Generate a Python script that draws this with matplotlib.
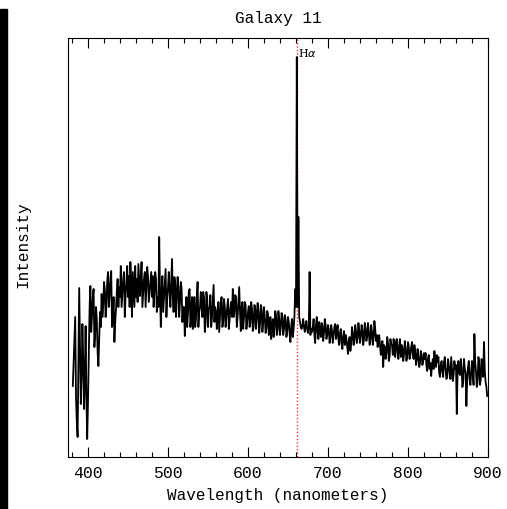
import matplotlib
matplotlib.use('Agg')
import matplotlib.pyplot as plt
import numpy as np
from matplotlib.patches import Rectangle
from matplotlib.ticker import MultipleLocator

# Spectrum of galaxy 11 (arbitrary intensity units)
# values at the even steps 381, 383, ... 899 nm
wl_start = 381.0   # nm
intensity = [
    71, 121, 60, 20, 169, 53, 133, 48, 131, 18,
    106, 171, 141, 168, 125, 138, 91, 145, 163, 151,
    168, 151, 185, 161, 186, 141, 115, 148, 178, 170,
    191, 165, 185, 161, 191, 181, 195, 140, 168, 191,
    178, 193, 161, 195, 165, 185, 171, 181, 165, 185,
    181, 165, 178, 160, 220, 130, 181, 160, 188, 158,
    185, 150, 198, 145, 175, 158, 170, 155, 168, 150,
    121, 160, 145, 168, 140, 128, 160, 138, 175, 145,
    165, 140, 160, 135, 158, 148, 162, 140, 172, 150,
    128, 155, 140, 160, 135, 150, 141, 158, 137, 155,
    168, 145, 160, 140, 170, 126, 155, 140, 152, 135,
    151, 135, 148, 130, 150, 138, 146, 133, 148, 135,
    140, 128, 143, 130, 118, 138, 128, 142, 127, 138,
    130, 140, 128, 138, 125, 135, 115, 138, 128, 168,
    400, 240, 135, 128, 138, 125, 136, 124, 185, 128,
    130, 122, 132, 125, 135, 120, 130, 124, 132, 122,
    128, 120, 126, 122, 133, 124, 118, 124, 114, 121,
    112, 118, 103, 120, 114, 124, 117, 126, 119, 127,
    120, 127, 118, 128, 121, 126, 117, 125, 119, 128,
    122, 115, 112, 108, 90, 110, 104, 114, 100, 113,
    102, 112, 115, 104, 112, 100, 109, 103, 108, 100,
    110, 103, 115, 98, 106, 97, 100, 94, 102, 96,
    98, 92, 99, 88, 81, 98, 106, 90, 95, 84,
    92, 85, 95, 88, 80, 92, 78, 88, 82, 88,
    43, 96, 82, 90, 75, 88, 51, 90, 78, 85,
    81, 123, 85, 75, 95, 78, 88, 115, 75, 61,
]
# values at the odd steps 382, 384, ... 898 nm (in between the ones above)
intensity_mid = [
    95, 140, 35, 90, 110, 80, 100, 75, 60, 55,
    150, 125, 160, 110, 150, 105, 120, 130, 140, 175,
    140, 175, 150, 178, 130, 160, 135, 165, 150, 160,
    150, 178, 140, 175, 160, 150, 170, 185, 150, 160,
    155, 178, 180, 150, 178, 150, 190, 155, 175, 160,
    150, 185, 145, 150, 165, 165, 145, 175, 140, 170,
    165, 175, 160, 180, 140, 180, 140, 175, 135, 150,
    145, 130, 165, 130, 160, 150, 130, 160, 130, 150,
    150, 165, 125, 165, 130, 150, 130, 155, 135, 145,
    145, 125, 155, 130, 158, 130, 150, 128, 150, 140,
    140, 162, 130, 155, 145, 150, 128, 155, 128, 145,
    130, 155, 126, 152, 128, 154, 124, 152, 125, 150,
    124, 146, 122, 140, 132, 120, 146, 122, 146, 122,
    144, 122, 142, 120, 140, 124, 130, 120, 140, 150,
    150, 140, 130, 132, 130, 132, 128, 130, 122, 125,
    138, 114, 140, 118, 126, 134, 116, 138, 118, 132,
    114, 132, 114, 130, 118, 132, 112, 128, 108, 126,
    122, 110, 116, 106, 130, 112, 132, 114, 134, 114,
    132, 112, 134, 116, 134, 112, 132, 112, 136, 116,
    110, 122, 102, 116, 112, 98, 120, 96, 118, 112,
    118, 100, 118, 98, 118, 112, 96, 116, 96, 115,
    98, 110, 102, 112, 92, 108, 90, 106, 92, 104,
    104, 86, 102, 94, 92, 88, 94, 102, 100, 80,
    96, 80, 100, 78, 98, 84, 100, 76, 96, 92,
    88, 84, 98, 70, 98, 84, 78, 96, 72, 96,
    72, 95, 70, 100, 72, 98, 80, 86, 70,
]

flux = np.empty(len(intensity) + len(intensity_mid))
flux[0::2] = intensity
flux[1::2] = intensity_mid
wavelength = wl_start + np.arange(len(flux))

halpha_obs = 661.0   # observed H-alpha position (nm)
xmin, xmax = 375, 900
ymin, ymax = 0, 419

fig = plt.figure(figsize=(5.07, 5.10), dpi=100)
ax = fig.add_axes([68/507, 1-458/510, 420/507, 419/510])

# dark strip at the left edge of the screenshot
fig.patches.append(Rectangle((0, 0), 6.5/507, 1-10/510, transform=fig.transFigure,
                             color='black', zorder=0))

ax.axvline(halpha_obs, color='#ff3030', linestyle=(0, (1, 1.5)), linewidth=1.0, zorder=1)
ax.plot(wavelength, flux, color='black', linewidth=1.3, zorder=2)

ax.set_xlim(xmin, xmax)
ax.set_ylim(ymin, ymax)

mono = 'Liberation Mono'
ax.xaxis.set_major_locator(MultipleLocator(100))
ax.xaxis.set_minor_locator(MultipleLocator(20))
ax.tick_params(axis='x', which='major', direction='in', length=7.2, width=0.8,
               top=True, pad=6.0, labelsize=11.8)
ax.tick_params(axis='x', which='minor', direction='in', length=3.6, width=0.8, top=True)
ax.set_yticks([])
for lab in ax.get_xticklabels():
    lab.set_family(mono)
for sp in ax.spines.values():
    sp.set_linewidth(0.8)

ax.text(halpha_obs + 2, 0.966, r'H$\alpha$', transform=ax.get_xaxis_transform(),
        ha='left', va='center', fontsize=8, family='DejaVu Serif')

fig.text(0.5 * (68 + 488) / 507, 1-18/510, 'Galaxy 11', ha='center', va='center',
         family=mono, fontsize=11.5)
fig.text(0.5 * (68 + 488) / 507, 1-496/510, 'Wavelength (nanometers)', ha='center',
         va='center', family=mono, fontsize=11.5)
fig.text(23/507, 1-245/510, 'Intensity', rotation=90, ha='center', va='center',
         family=mono, fontsize=11.5)

fig.savefig('out.png', dpi=100)
